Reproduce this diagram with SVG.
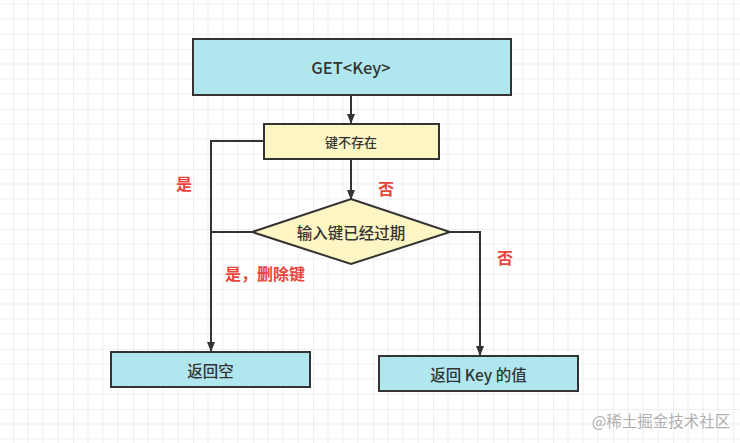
<svg xmlns="http://www.w3.org/2000/svg" width="740" height="443" viewBox="0 0 740 443">
<style>
text{font-family:"Noto Sans CJK SC","Liberation Sans",sans-serif;text-anchor:middle;dominant-baseline:central;fill:#333;font-weight:500}
.box{stroke:#333;stroke-width:2}
.cyan{fill:#b0e7ee}
.yellow{fill:#fdf6c4}
.lbl{fill:#e8453c;font-weight:bold;font-size:16px}
.edge{fill:none;stroke:#333;stroke-width:2}
</style>
<defs>
<pattern id="grid" patternUnits="userSpaceOnUse" x="13" y="49" width="60" height="60">
<path d="M15 0V60M30 0V60M45 0V60M0 15H60M0 30H60M0 45H60" stroke="#efefef" stroke-width="1" fill="none"/>
<path d="M0 0V60M0 0H60" stroke="#e0e0e0" stroke-width="1" fill="none"/>
</pattern>
<marker id="arr" markerWidth="10" markerHeight="10" refX="9" refY="5" orient="auto" markerUnits="userSpaceOnUse">
<path d="M0 1L10 5L0 9Z" fill="#333"/>
</marker>
</defs>
<rect width="740" height="443" fill="#fff"/>
<rect width="740" height="443" fill="url(#grid)"/>
<g id="connectors">
<path class="edge" d="M351 95V123" marker-end="url(#arr)"/>
<path class="edge" d="M351 159V199" marker-end="url(#arr)"/>
<path class="edge" d="M264 141H211V351" marker-end="url(#arr)"/>
<path class="edge" d="M252 232H211"/>
<path class="edge" d="M450 232H480V355" marker-end="url(#arr)"/>
</g>
<g id="n-get">
<rect class="box cyan" x="193" y="39" width="318" height="56"/>
<text x="351" y="67" font-size="16.5" font-weight="bold">GET&lt;Key&gt;</text>
</g>
<g id="n-notexist">
<rect class="box yellow" x="264" y="124" width="175" height="35"/>
<text x="351" y="141" font-size="13">键不存在</text>
</g>
<g id="n-expired">
<polygon class="box yellow" points="351,199 450,232 351,264 252,232"/>
<text x="351" y="232" font-size="15.5">输入键已经过期</text>
</g>
<g id="n-empty">
<rect class="box cyan" x="111" y="352" width="199" height="35"/>
<text x="210.5" y="370" font-size="15.5">返回空</text>
</g>
<g id="n-value">
<rect class="box cyan" x="379" y="356" width="199" height="35"/>
<text x="478.5" y="374" font-size="15.5">返回 Key 的值</text>
</g>
<g id="labels">
<text class="lbl" x="184" y="183">是</text>
<text class="lbl" x="386" y="188">否</text>
<text class="lbl" x="265" y="273">是，删除键</text>
<text class="lbl" x="505" y="257">否</text>
</g>
<text x="661" y="420" font-size="15.5" style="fill:#b0b0b0;font-weight:normal">@稀土掘金技术社区</text>
</svg>
